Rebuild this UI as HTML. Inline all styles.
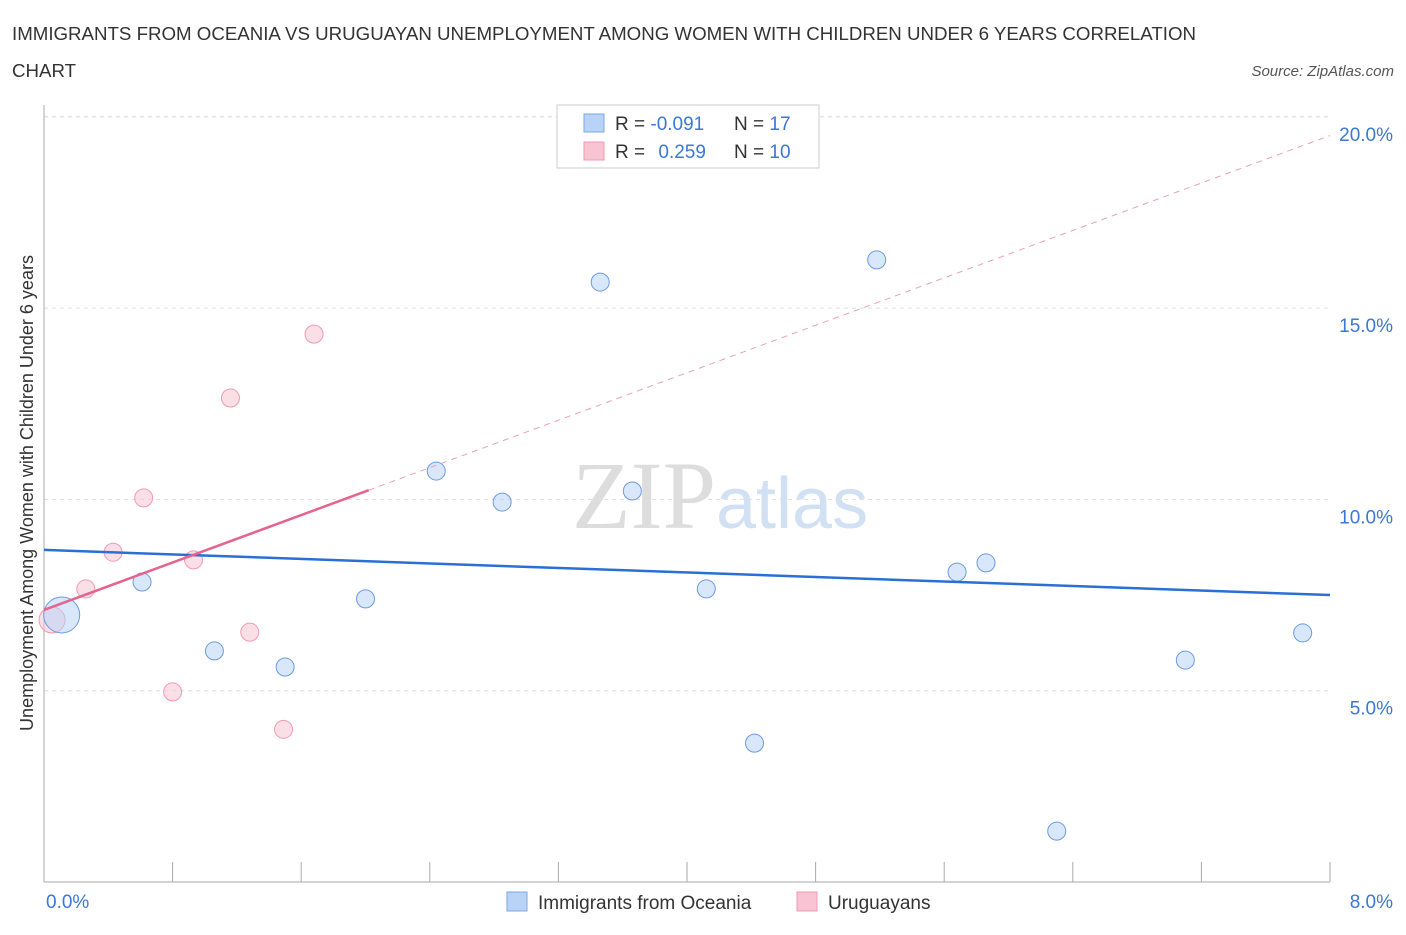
<!DOCTYPE html>
<html><head><meta charset="utf-8"><style>
body{margin:0;background:#fff;font-family:"Liberation Sans",sans-serif;}
</style></head><body>
<svg width="1406" height="930" xmlns="http://www.w3.org/2000/svg" id="chart">
<text x="12" y="40" font-size="18.7" fill="#333">IMMIGRANTS FROM OCEANIA VS URUGUAYAN UNEMPLOYMENT AMONG WOMEN WITH CHILDREN UNDER 6 YEARS CORRELATION</text>
<text x="12" y="77" font-size="18.7" fill="#333">CHART</text>
<text x="1394" y="76" font-size="15" fill="#555" font-style="italic" text-anchor="end">Source: ZipAtlas.com</text>
<text transform="translate(33,493) rotate(-90)" font-size="18" fill="#333" text-anchor="middle">Unemployment Among Women with Children Under 6 years</text>
<text x="716" y="528" font-size="96" fill="#ddd" text-anchor="end" font-family="Liberation Serif,serif">ZIP</text>
<text x="716" y="528" font-size="72" fill="#d2e0f3">atlas</text>
<g id="grid"></g><g id="marks"></g>
<rect x="557" y="105" width="262" height="63" fill="#fff" stroke="#ccc"/>
<rect x="584" y="114" width="20" height="18" fill="#b9d3f7" stroke="#7aa7e8"/>
<rect x="584" y="142" width="20" height="18" fill="#f8c4d4" stroke="#f09ab4"/>
<text x="615" y="130" font-size="19" fill="#333">R = <tspan fill="#3a78d4">-0.091</tspan></text>
<text x="734" y="130" font-size="19" fill="#333">N = <tspan fill="#3a78d4">17</tspan></text>
<text x="615" y="158" font-size="19" fill="#333">R = <tspan fill="#3a78d4" dx="8">0.259</tspan></text>
<text x="734" y="158" font-size="19" fill="#333">N = <tspan fill="#3a78d4">10</tspan></text>
<rect x="507" y="892" width="20" height="19" fill="#b9d3f7" stroke="#7aa7e8"/>
<text x="538" y="909" font-size="19" fill="#333">Immigrants from Oceania</text>
<rect x="797" y="892" width="20" height="19" fill="#f8c4d4" stroke="#f09ab4"/>
<text x="828" y="909" font-size="19" fill="#333">Uruguayans</text>
</svg>
<script>
const blueX=[0.11,0.61,1.06,1.5,2.0,2.44,2.85,3.46,3.66,4.12,4.42,5.18,5.68,5.86,6.3,7.1,7.83];
const blueY=[6.98,7.84,6.04,5.62,7.40,10.74,9.93,15.68,10.22,7.66,3.63,16.26,8.10,8.34,1.33,5.80,6.51];
const blueR=[18,9,9,9,9,9,9,9,9,9,9,9,9,9,9,9,9];
const pinkX=[0.05,0.26,0.43,0.62,0.80,0.93,1.16,1.28,1.49,1.68];
const pinkY=[6.85,7.66,8.62,10.04,4.97,8.42,12.65,6.53,3.99,14.32];
const pinkR=[13,9,9,9,9,9,9,9,9,9];
const blueTrend=[8.68,-0.1475];
const pinkTrend=[7.11,1.55];
const pinkSolidEnd=2.02;
const yTicks=[5,10,15,20];
const yTickLabels=["5.0%","10.0%","15.0%","20.0%"];
const xTicks=[0,0.8,1.6,2.4,3.2,4.0,4.8,5.6,6.4,7.2,8.0];
const NS="http://www.w3.org/2000/svg";
const X=v=>44+v*1286/8, Y=v=>882-v*191.3/5;
const gridG=document.getElementById('grid'), marksG=document.getElementById('marks');
function mk(tag,at,p){const e=document.createElementNS(NS,tag);for(const k in at)e.setAttribute(k,at[k]);p.appendChild(e);return e;}
yTicks.forEach((t,i)=>{
 const l=mk('line',{x1:44,x2:1330,y1:Y(t),y2:Y(t),stroke:'#ddd','stroke-dasharray':'4,4'},gridG);
 
 
 const tx=mk('text',{x:1393,y:Y(t)+24,'font-size':19,fill:'#3a78d4','text-anchor':'end'},gridG);tx.textContent=yTickLabels[i];
 
 
});
const topLine=mk('line',{x1:44,x2:1330,y1:117,y2:117,stroke:'#ddd','stroke-dasharray':'4,4'},gridG);


const ya=mk('line',{x1:44,x2:44,y1:105,y2:882,stroke:'#aaa'},gridG);


const xa=mk('line',{x1:44,x2:1330,y1:882,y2:882,stroke:'#aaa'},gridG);


xTicks.forEach(t=>{const l=mk('line',{x1:X(t),x2:X(t),y1:862,y2:882,stroke:'#aaa'},gridG);
 
 });
const xl0=mk('text',{x:46,y:908,'font-size':19,fill:'#3a78d4'},gridG);xl0.textContent='0.0%';


const xl1=mk('text',{x:1393,y:908,'font-size':19,fill:'#3a78d4','text-anchor':'end'},gridG);xl1.textContent='8.0%';


pinkX.forEach((x,i)=>{const c=mk('circle',{cx:X(x),cy:Y(pinkY[i]),r:pinkR[i],fill:'rgba(248,196,212,0.55)',stroke:'#f09ab4','stroke-width':1},marksG);
 
 });
blueX.forEach((x,i)=>{const c=mk('circle',{cx:X(x),cy:Y(blueY[i]),r:blueR[i],fill:'rgba(185,211,247,0.55)',stroke:'#6c9be0','stroke-width':1},marksG);
 
 });
const bt=mk('line',{x1:X(0),y1:Y(blueTrend[0]),x2:X(8),y2:Y(blueTrend[0]+8*blueTrend[1]),stroke:'#2a6fd6','stroke-width':2.5},marksG);


const pd=mk('line',{x1:X(pinkSolidEnd),y1:Y(pinkTrend[0]+pinkSolidEnd*pinkTrend[1]),x2:X(8),y2:Y(pinkTrend[0]+8*pinkTrend[1]),stroke:'#eaa0b8','stroke-width':1,'stroke-dasharray':'6,5'},marksG);


const ps=mk('line',{x1:X(0),y1:Y(pinkTrend[0]),x2:X(pinkSolidEnd),y2:Y(pinkTrend[0]+pinkSolidEnd*pinkTrend[1]),stroke:'#e5648f','stroke-width':2.5},marksG);


</script>
</body></html>
